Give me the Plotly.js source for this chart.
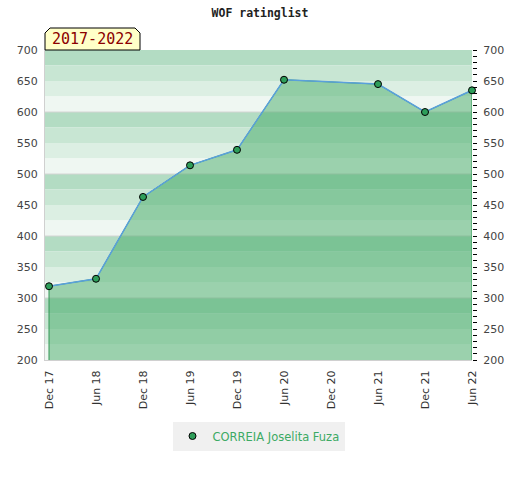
<!DOCTYPE html>
<html><head><meta charset="utf-8">
<script src="https://cdn.plot.ly/plotly-3.0.1.min.js"></script>
<style>body{margin:0;background:#fff}#c{width:520px;height:480px}</style>
</head><body><div id="c"></div>
<script>
const tickLabels = ["Dec 17","Jun 18","Dec 18","Jun 19","Dec 19","Jun 20","Dec 20","Jun 21","Dec 21","Jun 22"];
const pointIdx = [0,1,2,3,4,5,7,8,9];
const ratings = [319,331,463,514,539,652,645,600,635];
const playerName = "CORREIA Joselita Fuza";
const periodLabel = "2017-2022";
const yMin = 200, yMax = 700;

const stripeColors = ["#b3dcc3","#c8e6d3","#dcefe3","#eff7f2"];
const shapes = [];
for (let v = yMax; v > yMin; v -= 25) {
  const k = ((yMax - v) / 25) % 4;
  shapes.push({type:'rect', xref:'paper', yref:'y', x0:0, x1:1, y0:v-25, y1:v,
    fillcolor:stripeColors[k], line:{width:0}, layer:'below'});
}
for (let v = yMin+100; v < yMax; v += 100) {
  shapes.push({type:'line', xref:'paper', yref:'y', x0:0, x1:1, y0:v, y1:v,
    line:{color:'#d4d4d4', width:1}, layer:'below'});
}
// label box with chamfered top corners (paper coords)
const bx1 = 95/427, by0 = 1.0, by1 = 1 + 22/310, cx = 5/427, cy = 5/310;
shapes.push({type:'path', xref:'paper', yref:'paper',
  path:`M0,${by0} L0,${by1-cy} L${cx},${by1} L${bx1-cx},${by1} L${bx1},${by1-cy} L${bx1},${by0} Z`,
  fillcolor:'#ffffc8', line:{color:'#000', width:1}});

const polyX = [pointIdx[0]].concat(pointIdx, [pointIdx[pointIdx.length-1]]);
const polyY = [yMin].concat(ratings, [yMin]);

const data = [
  {x:polyX, y:polyY, type:'scatter', mode:'lines', fill:'toself',
   fillcolor:'rgba(62,168,99,0.48)', line:{color:'rgb(50,150,85)', width:1},
   showlegend:false, hoverinfo:'skip'},
  {x:pointIdx, y:ratings, type:'scatter', mode:'lines',
   line:{color:'rgb(90,160,220)', width:1.5}, showlegend:false},
  {x:pointIdx, y:ratings, type:'scatter', mode:'markers', name:playerName,
   marker:{color:'rgb(46,158,90)', size:7, line:{color:'#000', width:1}},
   cliponaxis:false},
  {x:[pointIdx[0]], y:[ratings[0]], yaxis:'y2', type:'scatter', mode:'markers',
   marker:{opacity:0}, showlegend:false, hoverinfo:'skip'}
];

const layout = {
  width:520, height:480,
  margin:{l:45, r:48, t:50, b:120},
  paper_bgcolor:'#fff', plot_bgcolor:'rgba(0,0,0,0)',
  title:{text:'<b>WOF ratinglist</b>', font:{family:'DejaVu Sans Mono', size:11.5, color:'#222'},
    x:0.5, xref:'container', y:1-13/480, yref:'container', yanchor:'middle'},
  xaxis:{range:[-0.085, 9.0], tickvals:tickLabels.map((_, i) => i), ticktext:tickLabels,
    tickangle:-90, showgrid:false, zeroline:false, showline:true, linecolor:'#d0d0d0',
    ticks:'', ticklabelstandoff:5, tickfont:{family:'DejaVu Sans', size:11, color:'#333'}},
  yaxis:{range:[yMin, yMax], dtick:50, showgrid:false, zeroline:false, showline:true,
    linecolor:'#d0d0d0', ticks:'', ticklabelstandoff:4,
    tickfont:{family:'DejaVu Sans', size:11, color:'#444'}},
  yaxis2:{overlaying:'y', side:'right', range:[yMin, yMax], dtick:50, showgrid:false,
    zeroline:false, showline:false, ticks:'outside', ticklen:4, tickcolor:'#000',
    ticklabelstandoff:4,
    minor:{dtick:10, ticks:'outside', ticklen:4, tickcolor:'#000'},
    tickfont:{family:'DejaVu Sans', size:11, color:'#444'}},
  shapes:shapes,
  annotations:[{xref:'paper', yref:'paper', x:bx1/2, y:1+11/310, text:periodLabel,
    showarrow:false, font:{family:'DejaVu Sans Mono', size:15, color:'#8b0000'},
    xanchor:'center', yanchor:'middle'}],
  legend:{orientation:'h', x:0.5, xanchor:'center', y:-76/310, yanchor:'middle',
    itemwidth:30, bgcolor:'#f0f0f0',
    font:{family:'DejaVu Sans', size:11.5, color:'rgb(60,170,100)'}},
  showlegend:true
};
Plotly.newPlot('c', data, layout, {displayModeBar:false, staticPlot:true});
</script></body></html>
